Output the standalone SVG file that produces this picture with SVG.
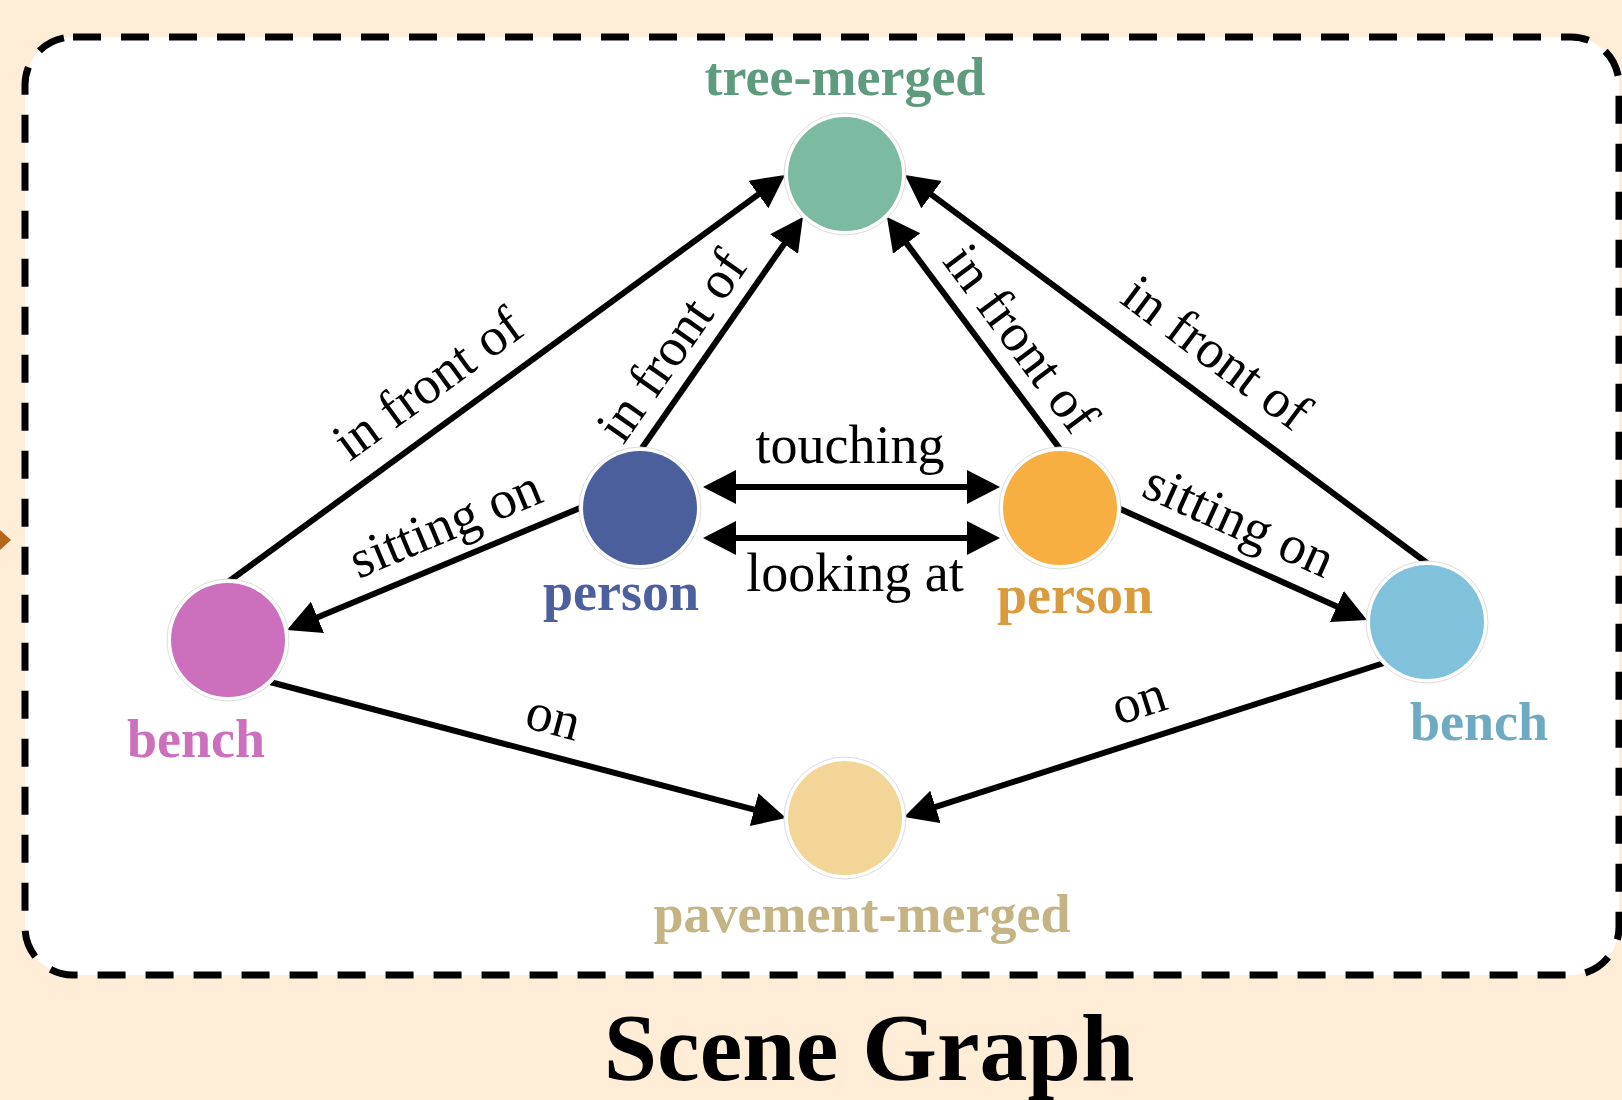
<svg xmlns="http://www.w3.org/2000/svg" width="1622" height="1100" viewBox="0 0 1622 1100">
  <defs>
    <marker id="arrow" markerUnits="userSpaceOnUse" markerWidth="36" markerHeight="36" viewBox="0 0 36 36" refX="3" refY="17" orient="auto-start-reverse">
      <path d="M0,0 L33,17 L0,34 z" fill="#000"/>
    </marker>
    <style>
      .edge { fill: none; stroke: #000; stroke-width: 6; marker-end: url(#arrow); }
      .both { marker-start: url(#arrow); }
      .elabel { font-family: "Liberation Serif", "Times New Roman", serif; font-size: 54px; fill: #000; text-anchor: middle; }
      .nlabel { font-family: "Liberation Serif", "Times New Roman", serif; font-size: 54px; font-weight: bold; text-anchor: middle; }
      .ring { fill: #fff; stroke: #dcdcdc; stroke-width: 1; }
    </style>
  </defs>

  <rect x="0" y="0" width="1622" height="1100" fill="#FFEDD8"/>
  <polygon points="0,530 11,540 0,550" fill="#B5661A"/>
  <rect id="frame" x="25" y="37" width="1594" height="938" rx="48" ry="48" fill="#fff" stroke="#000" stroke-width="7" stroke-dasharray="28 20"/>

  <g id="connectors">
    <path class="edge" d="M228,582 L760.8,192.7"/>
    <path class="edge" d="M642,448 L785.8,241.6"/>
    <path class="edge" d="M1060,449 L904.9,241.1"/>
    <path class="edge" d="M1427,563 L929.1,192.9"/>
    <path class="edge" d="M580,508 L314.7,618.5"/>
    <path class="edge" d="M1118,508 L1339.6,607.7"/>
    <path class="edge" d="M270,682 L757,810.4"/>
    <path class="edge" d="M1384,663 L932.6,807.8"/>
    <path class="edge both" d="M733,487 L970,487"/>
    <path class="edge both" d="M733,538 L970,538"/>

    <text class="elabel" transform="translate(438,398) rotate(-36)">in front of</text>
    <text class="elabel" transform="translate(686,356) rotate(-55)">in front of</text>
    <text class="elabel" transform="translate(1007,349) rotate(53.3)">in front of</text>
    <text class="elabel" transform="translate(1206,367) rotate(36.8)">in front of</text>
    <text class="elabel" transform="translate(452,540) rotate(-22.6)">sitting on</text>
    <text class="elabel" transform="translate(1232,537) rotate(24.2)">sitting on</text>
    <text class="elabel" transform="translate(549,734) rotate(14.8)">on</text>
    <text class="elabel" transform="translate(1144,717) rotate(-17.8)">on</text>
    <text class="elabel" x="850" y="463">touching</text>
    <text class="elabel" x="855" y="591">looking at</text>
  </g>

  <g id="node-tree">
    <circle class="ring" cx="845" cy="174" r="61"/>
    <circle cx="845" cy="174" r="57" fill="#7CBBA1"/>
    <text class="nlabel" x="845" y="95" fill="#5E9A7E">tree-merged</text>
  </g>
  <g id="node-person-blue">
    <circle class="ring" cx="640" cy="508" r="61"/>
    <circle cx="640" cy="508" r="57" fill="#4B5F9C"/>
    <text class="nlabel" x="621" y="610" fill="#4C5F9E">person</text>
  </g>
  <g id="node-person-orange">
    <circle class="ring" cx="1060" cy="508" r="61"/>
    <circle cx="1060" cy="508" r="57" fill="#F7AF41"/>
    <text class="nlabel" x="1075" y="613" fill="#D99B3C">person</text>
  </g>
  <g id="node-bench-pink">
    <circle class="ring" cx="228" cy="640" r="61"/>
    <circle cx="228" cy="640" r="57" fill="#CC6FBC"/>
    <text class="nlabel" x="196" y="757" fill="#CC6FBC">bench</text>
  </g>
  <g id="node-bench-blue">
    <circle class="ring" cx="1427" cy="622" r="61"/>
    <circle cx="1427" cy="622" r="57" fill="#80C1DB"/>
    <text class="nlabel" x="1479" y="740" fill="#6FAAC3">bench</text>
  </g>
  <g id="node-pavement">
    <circle class="ring" cx="845" cy="818" r="61"/>
    <circle cx="845" cy="818" r="57" fill="#F2D597"/>
    <text class="nlabel" x="862" y="932" fill="#C6B384">pavement-merged</text>
  </g>

  <text id="title" x="869" y="1080" font-family="Liberation Serif, Times New Roman, serif" font-size="96" font-weight="bold" text-anchor="middle" fill="#000">Scene Graph</text>
</svg>
